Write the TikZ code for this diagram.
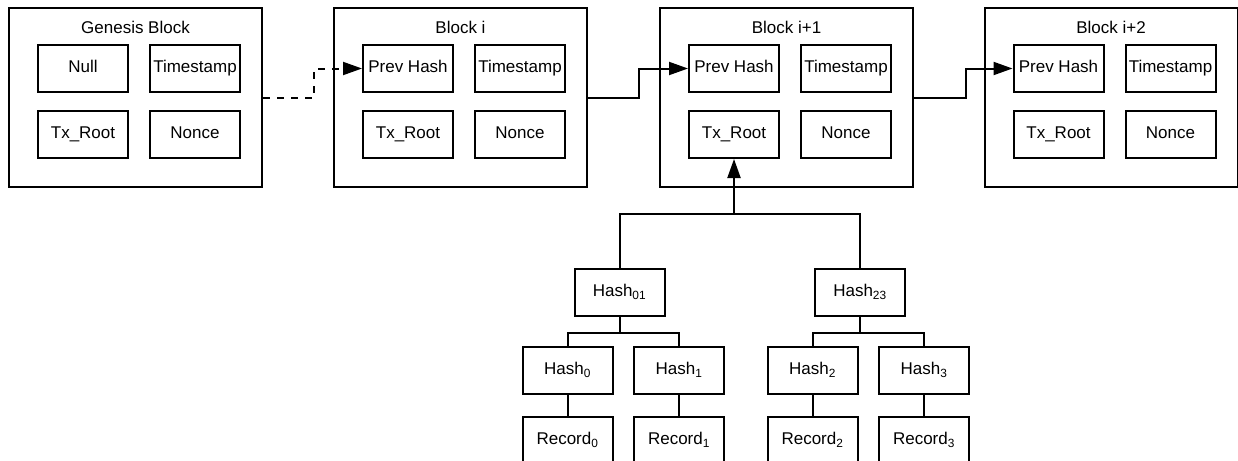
\documentclass[tikz,border=0pt]{standalone}
\usepackage{fontspec}
\setmainfont{Liberation Sans}
\usetikzlibrary{arrows.meta, positioning, calc}

\begin{document}
\begin{tikzpicture}[
  x=1pt, y=-1pt,
  blk/.style  = {draw, line width=2pt, minimum width=253pt,
                 minimum height=179pt, inner sep=0pt},
  fld/.style  = {draw, line width=2pt, minimum width=90pt,
                 minimum height=47pt, inner sep=0pt,
                 text height=12pt, text depth=4pt,
                 font=\fontsize{17}{20}\selectfont},
  ttl/.style  = {font=\fontsize{17}{20}\selectfont},
  link/.style = {line width=2pt, -{Triangle[length=19pt, width=13pt]}},
  tree/.style = {line width=2pt},
]
\useasboundingbox (0,0) rectangle (1238,460);

% ── Chain of blocks ───────────────────────────────────────────────────────────
\foreach \id/\cx/\title/\first in {gen/135.5/Genesis Block/Null,
                                   bi/460.5/Block i/Prev Hash,
                                   bj/786.5/Block i+1/Prev Hash,
                                   bk/1111/Block i+2/Prev Hash} {
  \node[blk] (\id)       at (\cx,97.5)        {};
  \node[ttl] (\id-title) at (\cx,27)          {\title};
  \node[fld] (\id-prev)  at (\cx-52.5,68.5)   {\first};
  \node[fld] (\id-time)  at (\cx+59.5,68.5)   {Timestamp};
  \node[fld] (\id-tx)    at (\cx-52.5,134.5)  {Tx\_Root};
  \node[fld] (\id-nonce) at (\cx+59.5,134.5)  {Nonce};
}

% ── Links between blocks ──────────────────────────────────────────────────────
\draw[link, dash pattern=on 7pt off 7pt] (gen.east) -- ++(51,0) |- (bi-prev.west);
\draw[link] (bi.east) -- ++(51,0) |- (bj-prev.west);
\draw[link] (bj.east) -- ++(52,0) |- (bk-prev.west);

% ── Merkle tree below Block i+1 ───────────────────────────────────────────────
\node[fld] (h01) at (619.5,292.5) {Hash\textsubscript{01}};
\node[fld] (h23) at (860,292.5)   {Hash\textsubscript{23}};

\node[fld] (h0) at (567.5,370.5) {Hash\textsubscript{0}};
\node[fld] (h1) at (679,370.5)   {Hash\textsubscript{1}};
\node[fld] (h2) at (812.5,370.5) {Hash\textsubscript{2}};
\node[fld] (h3) at (924,370.5)   {Hash\textsubscript{3}};

\node[fld] (r0) at (567.5,440.5) {Record\textsubscript{0}};
\node[fld] (r1) at (679,440.5)   {Record\textsubscript{1}};
\node[fld] (r2) at (812.5,440.5) {Record\textsubscript{2}};
\node[fld] (r3) at (924,440.5)   {Record\textsubscript{3}};

% ── Tree edges ────────────────────────────────────────────────────────────────
\coordinate (top) at (bj-tx.south |- 0,214);
\draw[tree] (h01.north) |- (top) -| (h23.north);
\draw[link] (top) -- (bj-tx.south);

\draw[tree] (h01.south) -- ++(0,15.5) coordinate (j01);
\draw[tree] (h0.north) |- (j01) -| (h1.north);
\draw[tree] (h23.south) -- ++(0,15.5) coordinate (j23);
\draw[tree] (h2.north) |- (j23) -| (h3.north);

\draw[tree] (h0.south) -- (r0.north);
\draw[tree] (h1.south) -- (r1.north);
\draw[tree] (h2.south) -- (r2.north);
\draw[tree] (h3.south) -- (r3.north);

\end{tikzpicture}
\end{document}
